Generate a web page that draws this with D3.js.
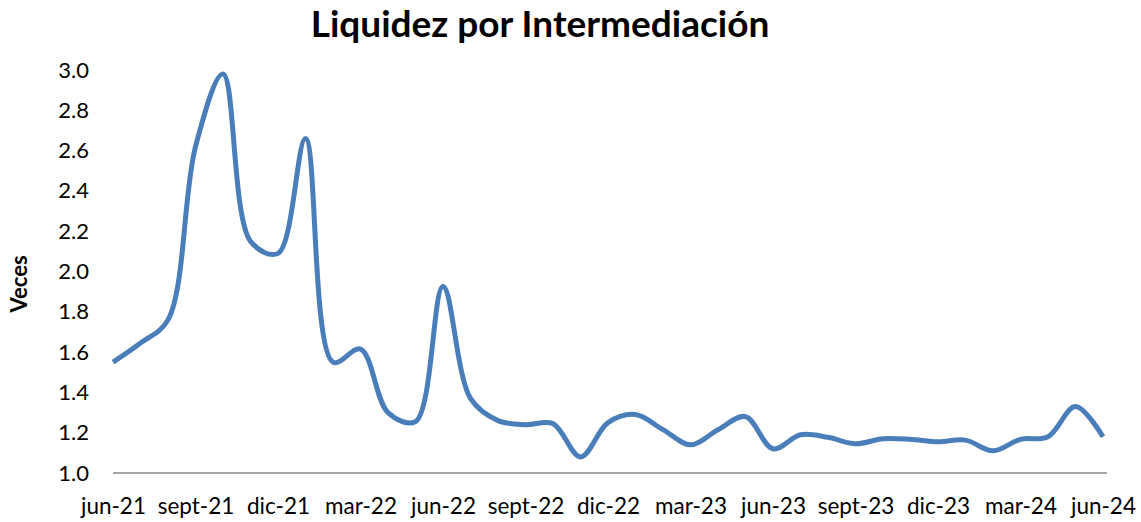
<!DOCTYPE html>
<html>
<head>
<meta charset="utf-8">
<script src="https://cdn.jsdelivr.net/npm/d3@7"></script>
<style>
  body { margin: 0; background: #fff; }
  text { font-family: Lato, "Noto Sans", sans-serif; fill: #000; }
</style>
</head>
<body>
<div id="chart"></div>
<script>
// months, jun-21 .. jun-24
const months = [
  'jun-21', 'jul-21', 'ago-21', 'sept-21', 'oct-21', 'nov-21', 'dic-21',
  'ene-22', 'feb-22', 'mar-22', 'abr-22', 'may-22', 'jun-22', 'jul-22',
  'ago-22', 'sept-22', 'oct-22', 'nov-22', 'dic-22', 'ene-23', 'feb-23',
  'mar-23', 'abr-23', 'may-23', 'jun-23', 'jul-23', 'ago-23', 'sept-23',
  'oct-23', 'nov-23', 'dic-23', 'ene-24', 'feb-24', 'mar-24', 'abr-24',
  'may-24', 'jun-24'
];
const liquidez = [
  1.55, 1.645, 1.76, 2.62, 2.98, 2.15, 2.09,
  2.66, 1.55, 1.615, 1.30, 1.255, 1.925, 1.37,
  1.26, 1.24, 1.245, 1.08, 1.25, 1.29, 1.215,
  1.14, 1.215, 1.28, 1.12, 1.19, 1.177, 1.145,
  1.17, 1.167, 1.155, 1.163, 1.11, 1.167, 1.18,
  1.33, 1.18
];
const xTickLabels = ['jun-21', 'sept-21', 'dic-21', 'mar-22', 'jun-22', 'sept-22', 'dic-22',
  'mar-23', 'jun-23', 'sept-23', 'dic-23', 'mar-24', 'jun-24'];
const yTicks = [1.0, 1.2, 1.4, 1.6, 1.8, 2.0, 2.2, 2.4, 2.6, 2.8, 3.0];

const width = 1141;
const height = 522;

const svg = d3.select('#chart')
  .append('svg')
  .attr('width', width)
  .attr('height', height);

const x = d3.scalePoint()
  .domain(months)
  .range([113, 1103]);

const y = d3.scaleLinear()
  .domain([1, 3])
  .range([473, 70]);

// title
svg.append('text')
  .attr('x', 540)
  .attr('y', 37)
  .attr('text-anchor', 'middle')
  .style('font-size', '37px')
  .style('font-weight', 'bold')
  .text('Liquidez por Intermediación');

// y axis (labels only)
const yAxis = svg.append('g')
  .attr('transform', 'translate(100,0)')
  .call(d3.axisLeft(y).tickValues(yTicks).tickFormat(d3.format('.1f')).tickSize(0).tickPadding(11));
yAxis.select('.domain').remove();
yAxis.selectAll('text')
  .style('font-size', '22px')
  .style('font-family', 'Lato, "Noto Sans", sans-serif')
  .attr('fill', '#000');

svg.append('text')
  .attr('transform', 'translate(27,284) rotate(-90)')
  .attr('text-anchor', 'middle')
  .style('font-size', '22px')
  .style('font-weight', 'bold')
  .text('Veces');

// x axis
const xAxis = svg.append('g')
  .attr('transform', 'translate(0,473)')
  .call(d3.axisBottom(x).tickValues(xTickLabels).tickSize(0).tickPadding(25));
xAxis.select('.domain')
  .attr('d', 'M113,0H1107')
  .attr('stroke', '#878787')
  .attr('stroke-width', 1.5);
xAxis.selectAll('text')
  .style('font-size', '22.5px')
  .style('font-family', 'Lato, "Noto Sans", sans-serif')
  .attr('fill', '#000');

// line
const line = d3.line()
  .x((d, i) => x(months[i]))
  .y(d => y(d))
  .curve(d3.curveCatmullRom.alpha(0.5));

svg.append('path')
  .datum(liquidez)
  .attr('fill', 'none')
  .attr('stroke', '#4a7ebb')
  .attr('stroke-width', 5)
  .attr('stroke-linejoin', 'round')
  .attr('d', line);
</script>
</body>
</html>
